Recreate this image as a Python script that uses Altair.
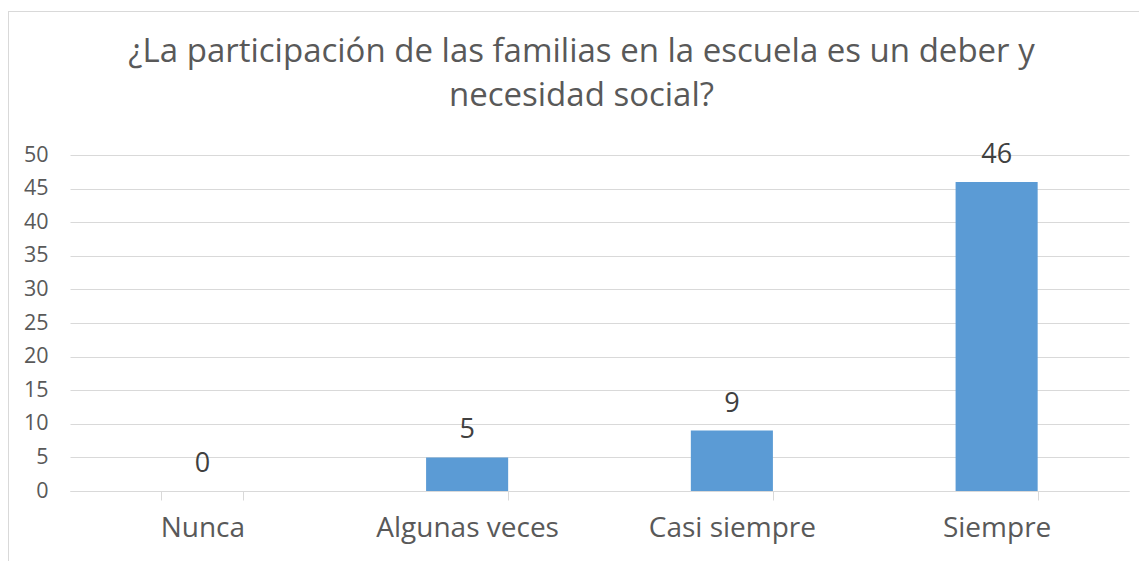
import altair as alt
import pandas as pd

categories = ["Nunca", "Algunas veces", "Casi siempre", "Siempre"]
values = [0, 5, 9, 46]
y_ticks = [0, 5, 10, 15, 20, 25, 30, 35, 40, 45, 50]
title_lines = ["¿La participación de las familias en la escuela es un deber y", "necesidad social?"]

df = pd.DataFrame({"cat": categories, "val": values})
FONT = "Open Sans"

x_enc = alt.X("cat:N", sort=categories, title=None,
              scale=alt.Scale(paddingInner=0.69, paddingOuter=0.345),
              axis=alt.Axis(labelAngle=0, labelFont=FONT, labelFontSize=28, labelColor="#595959",
                            labelPadding=14, labelLimit=400, domainColor="#d9d9d9", tickColor="#d9d9d9",
                            tickSize=9, tickBand="extent", grid=False))
y_enc = alt.Y("val:Q", title=None,
              scale=alt.Scale(domain=[0, 50], nice=False),
              axis=alt.Axis(values=y_ticks, labelFont=FONT, labelFontSize=21.5, labelColor="#595959",
                            labelPadding=22, domain=False, ticks=False, gridColor="#d9d9d9",
                            labelOverlap=False))

base = alt.Chart(df)

border = base.mark_rect(fill=None, stroke="#d9d9d9", strokeWidth=1, clip=False).encode(
    x=alt.value(-61.5), x2=alt.value(1100), y=alt.value(-143.5), y2=alt.value(420)
)

bars = base.mark_bar(color="#5b9bd5").encode(x=x_enc, y=y_enc)

labels = base.mark_text(font=FONT, fontSize=27, color="#404040", baseline="alphabetic", dy=-19).encode(
    x=x_enc, y=y_enc, text=alt.Text("val:Q"),
)

chart = alt.layer(border, bars, labels).properties(
    width=1059, height=336,
    autosize=alt.AutoSizeParams(type="none"),
    padding={"left": 62, "top": 147, "right": 10, "bottom": 75},
    title=alt.TitleParams(title_lines, font=FONT, fontSize=33, fontWeight="normal", color="#595959",
                          anchor="middle", frame="group", dx=-18, offset=-101.5, lineHeight=44),
).configure_view(stroke=None)

chart.save("out.html", embed_options={"renderer": "svg", "actions": False})
